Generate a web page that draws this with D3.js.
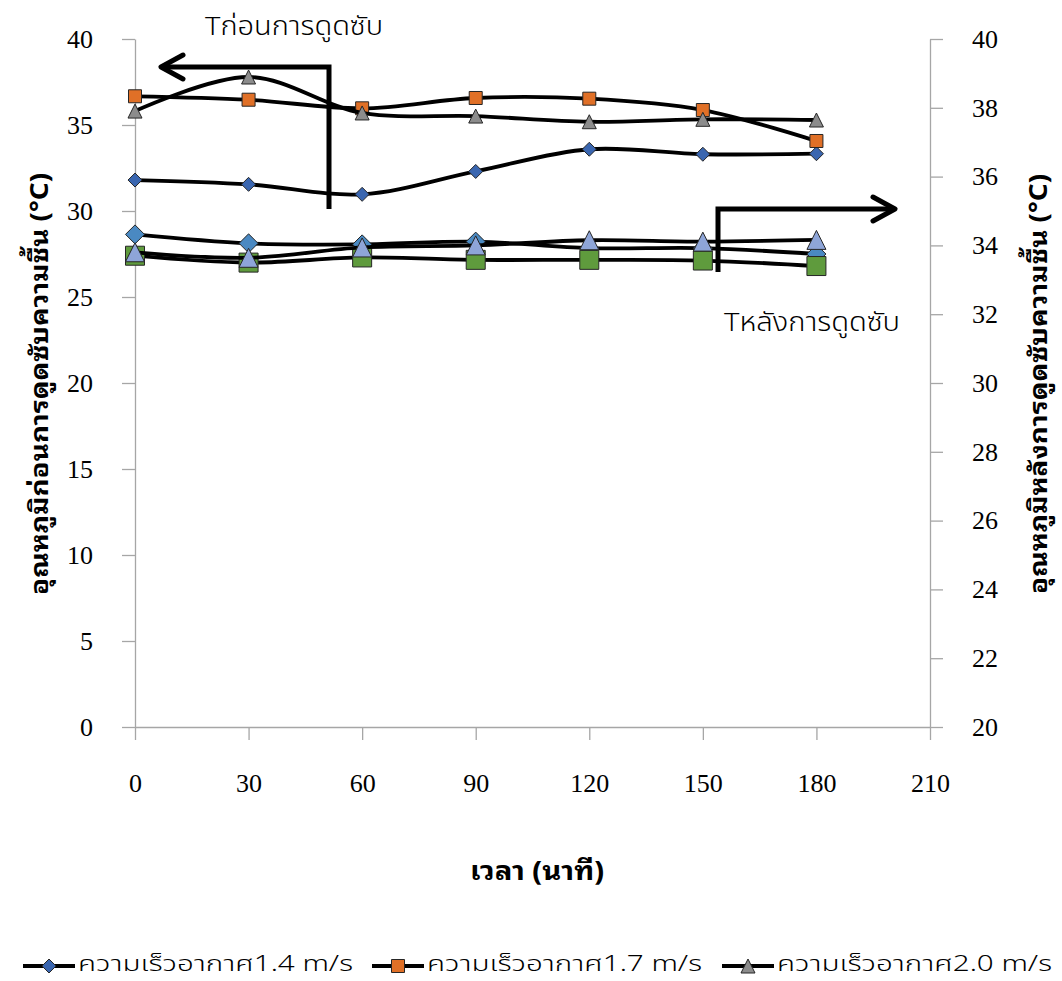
<!DOCTYPE html>
<html>
<head>
<meta charset="utf-8">
<script src="https://cdn.jsdelivr.net/npm/d3@7/dist/d3.min.js"></script>
<style>
  html, body { margin: 0; padding: 0; background: #fff; }
  svg { display: block; }
</style>
</head>
<body>
<svg id="chart" width="1062" height="981"></svg>
<script>
// ---------------- DATA ----------------
const times = [0, 30, 60, 90, 120, 150, 180];
const before14 = [31.8, 31.55, 30.97, 32.3, 33.59, 33.3, 33.33];
const before17 = [36.67, 36.47, 35.97, 36.57, 36.53, 35.87, 34.07];
const before20 = [35.81, 37.79, 35.7, 35.52, 35.19, 35.33, 35.29];
const after14 = [34.32, 34.06, 34.03, 34.11, 33.92, 33.92, 33.75];
const after17 = [33.70, 33.50, 33.65, 33.58, 33.58, 33.56, 33.40];
const after20 = [33.80, 33.64, 33.94, 34.0, 34.15, 34.11, 34.16];
const xTicks = [0, 30, 60, 90, 120, 150, 180, 210];
const yLeftTicks = [0, 5, 10, 15, 20, 25, 30, 35, 40];
const yRightTicks = [20, 22, 24, 26, 28, 30, 32, 34, 36, 38, 40];
const legendLabels = ["ความเร็วอากาศ1.4 m/s", "ความเร็วอากาศ1.7 m/s", "ความเร็วอากาศ2.0 m/s"];
const xTitle = "เวลา (นาที)";
const yLeftTitle = "อุณหภูมิก่อนการดูดซับความชื้น (°C)";
const yRightTitle = "อุณหภูมิหลังการดูดซับความชื้น (°C)";
const noteBefore = "Tก่อนการดูดซับ";
const noteAfter = "Tหลังการดูดซับ";

// ---------------- SETUP ----------------
const svg = d3.select("#chart");
const plot = { left: 135, right: 930, top: 39, bottom: 727 };
const serifFont = "'Liberation Serif', 'Times New Roman', serif";
const thaiFont = "'Noto Sans Thai', 'Noto Sans Thai UI', 'Leelawadee UI', Tahoma, 'DejaVu Sans', sans-serif";
const thaiTitleFont = "'Noto Sans Thai Looped', 'Noto Serif Thai', 'Noto Sans Thai', 'DejaVu Sans', sans-serif";
const axisColor = "#a6a6a6";

const x = d3.scaleLinear().domain([0, 210]).range([plot.left, plot.right]);
const yL = d3.scaleLinear().domain([0, 40]).range([plot.bottom, plot.top]);
const yR = d3.scaleLinear().domain([20, 40]).range([plot.bottom, plot.top]);

function styleAxis(g) {
  g.select(".domain").attr("stroke", axisColor).attr("stroke-width", 1.3);
  g.selectAll(".tick line").attr("stroke", axisColor).attr("stroke-width", 1.3);
  g.selectAll(".tick text").attr("fill", "#000")
    .style("font-family", serifFont).style("font-size", "26px");
}

// Left axis
svg.append("g").attr("transform", `translate(${plot.left},0)`)
  .call(d3.axisLeft(yL).tickValues(yLeftTicks).tickSize(13).tickSizeOuter(0).tickPadding(29))
  .call(styleAxis);

// Right axis
svg.append("g").attr("transform", `translate(${plot.right},0)`)
  .call(d3.axisRight(yR).tickValues(yRightTicks).tickSize(13).tickSizeOuter(0).tickPadding(29))
  .call(styleAxis);

// Bottom axis
svg.append("g").attr("transform", `translate(0,${plot.bottom})`)
  .call(d3.axisBottom(x).tickValues(xTicks).tickSize(13).tickSizeOuter(0).tickPadding(34))
  .call(styleAxis);

// ---------------- MARKERS ----------------
function markerPath(shape, s) {
  const h = s / 2;
  if (shape === "diamond") return `M0,${-h}L${h},0L0,${h}L${-h},0Z`;
  if (shape === "square") return `M${-h},${-h}H${h}V${h}H${-h}Z`;
  return `M0,${-h}L${h},${h}L${-h},${h}Z`;
}

const series = [
  { vals: before14, scale: yL, shape: "diamond", color: "#3a66b0", size: 14 },
  { vals: before17, scale: yL, shape: "square", color: "#e07027", size: 13 },
  { vals: before20, scale: yL, shape: "triangle", color: "#8c8c8c", size: 14 },
  { vals: after14, scale: yR, shape: "diamond", color: "#4a89c2", size: 19 },
  { vals: after17, scale: yR, shape: "square", color: "#5f9b3d", size: 19 },
  { vals: after20, scale: yR, shape: "triangle", color: "#8ea5d8", size: 19 }
];

series.forEach(s => {
  const pts = times.map((t, i) => [x(t), s.scale(s.vals[i])]);
  const line = d3.line().curve(d3.curveCatmullRom.alpha(0.5));
  const g = svg.append("g");
  g.append("path").attr("d", line(pts)).attr("fill", "none")
    .attr("stroke", "#000").attr("stroke-width", 3.8);
  g.selectAll("path.m").data(pts).join("path").attr("class", "m")
    .attr("transform", d => `translate(${d[0]},${d[1]})`)
    .attr("d", markerPath(s.shape, s.size))
    .attr("fill", s.color).attr("stroke", "#262626").attr("stroke-width", 1);
});

// ---------------- ANNOTATIONS ----------------
const ann = svg.append("g").attr("fill", "none").attr("stroke", "#000")
  .attr("stroke-width", 5).attr("stroke-linejoin", "miter");
// before arrow (points left)
ann.append("path").attr("d", "M329,209V67H161");
ann.append("path").attr("d", "M183,55L161,67L183,79").attr("stroke-linecap", "round").attr("stroke-linejoin", "round");
// after arrow (points right)
ann.append("path").attr("d", "M718,272V209H894");
ann.append("path").attr("d", "M873,197L895,209L873,221").attr("stroke-linecap", "round").attr("stroke-linejoin", "round");

svg.append("text").attr("x", 205).attr("y", 35).text(noteBefore)
  .attr("textLength", 178).attr("lengthAdjust", "spacingAndGlyphs")
  .style("font-family", thaiFont).style("font-size", "26px").style("font-weight", 300).attr("fill", "#000");
svg.append("text").attr("x", 724).attr("y", 331).text(noteAfter)
  .attr("textLength", 176).attr("lengthAdjust", "spacingAndGlyphs")
  .style("font-family", thaiFont).style("font-size", "26px").style("font-weight", 300).attr("fill", "#000");

// ---------------- TITLES ----------------
svg.append("text").attr("x", 537).attr("y", 880).attr("text-anchor", "middle")
  .attr("textLength", 134).attr("lengthAdjust", "spacingAndGlyphs")
  .text(xTitle).style("font-family", thaiTitleFont).style("font-size", "26px")
  .style("font-weight", "bold").attr("fill", "#000");

svg.append("text").attr("transform", `translate(48,384) rotate(-90)`)
  .attr("text-anchor", "middle").text(yLeftTitle)
  .attr("textLength", 422).attr("lengthAdjust", "spacingAndGlyphs")
  .style("font-family", thaiTitleFont).style("font-size", "25px")
  .style("font-weight", "bold").attr("fill", "#000");

svg.append("text").attr("transform", `translate(1047,384) rotate(-90)`)
  .attr("text-anchor", "middle").text(yRightTitle)
  .attr("textLength", 420).attr("lengthAdjust", "spacingAndGlyphs")
  .style("font-family", thaiTitleFont).style("font-size", "25px")
  .style("font-weight", "bold").attr("fill", "#000");

// ---------------- LEGEND ----------------
const legendX = [23, 372, 722];
const legendY = 966;
series.slice(0, 3).forEach((s, i) => {
  const g = svg.append("g").attr("transform", `translate(${legendX[i]},${legendY})`);
  g.append("line").attr("x1", 0).attr("x2", 52).attr("y1", 0).attr("y2", 0)
    .attr("stroke", "#000").attr("stroke-width", 3.8);
  g.append("path").attr("transform", "translate(26,0)")
    .attr("d", markerPath(s.shape, s.size)).attr("fill", s.color)
    .attr("stroke", "#262626").attr("stroke-width", 1);
  g.append("text").attr("x", 55).attr("y", -1).attr("dominant-baseline", "middle")
    .attr("textLength", 275).attr("lengthAdjust", "spacingAndGlyphs")
    .text(legendLabels[i])
    .style("font-family", thaiFont).style("font-size", "22px").style("font-weight", 300).attr("fill", "#000");
});
</script>
</body>
</html>
